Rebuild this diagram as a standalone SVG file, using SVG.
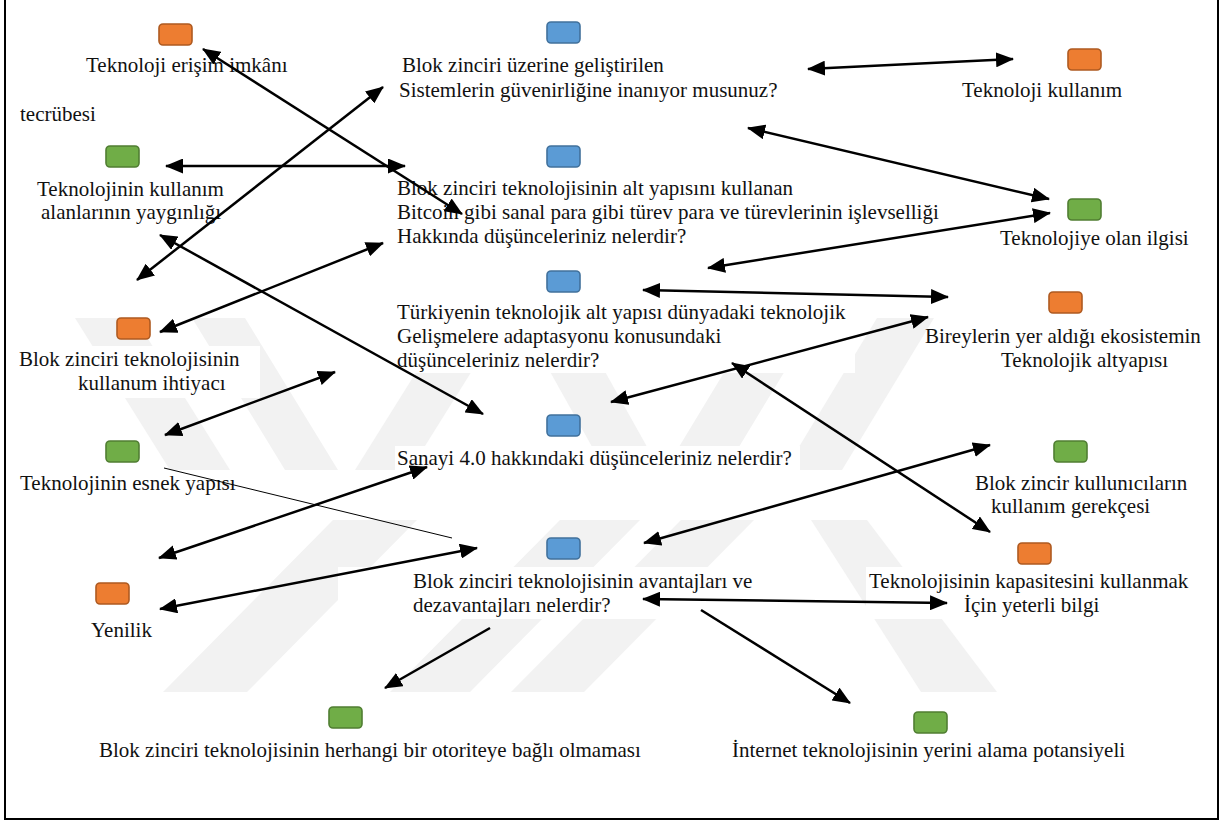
<svg xmlns="http://www.w3.org/2000/svg" width="1227" height="825" viewBox="0 0 1227 825">
  <defs>
    <style>
      .lbl { font-family: "Liberation Serif", "Times New Roman", serif; font-size: 21px; fill: #111; }
      .box { stroke-width: 1.6; }
      .o { fill: #ED7D31; stroke: #AE5A21; }
      .g { fill: #70AD47; stroke: #507E32; }
      .b { fill: #5B9BD5; stroke: #41719C; }
      .bg { fill: #ffffff; }
      .wm { fill: #f2f2f2; }
      .link { stroke: #000; stroke-width: 2.5; fill: none; }
      .both { marker-start: url(#head); marker-end: url(#head); }
      .one { marker-end: url(#head); }
      .thin { stroke: #000; stroke-width: 1; fill: none; }
    </style>
    <marker id="head" markerUnits="userSpaceOnUse" markerWidth="18" markerHeight="15" refX="17" refY="7.5" orient="auto-start-reverse">
      <path d="M0,0 L18,7.5 L0,15 z" fill="#000"/>
    </marker>
  </defs>

  <rect width="1227" height="825" fill="#ffffff"/>

  <!-- faint background chevron mark -->
  <g id="backdrop">
    <polygon class="wm" points="75,318 135,318 230,470 170,470"/>
    <polygon class="wm" points="192,318 245,318 338,470 285,470"/>
    <polygon class="wm" points="450,318 505,318 410,470 355,470"/>
    <polygon class="wm" points="520,318 575,318 660,470 605,470"/>
    <polygon class="wm" points="757,318 817,318 725,470 665,470"/>
    <polygon class="wm" points="877,318 934,318 842,470 785,470"/>
    <polygon class="wm" points="333,520 417,520 247,692 163,692"/>
    <polygon class="wm" points="560,520 640,520 470,692 390,692"/>
    <polygon class="wm" points="681,520 754,520 584,692 511,692"/>
    <polygon class="wm" points="811,520 867,520 997,692 921,692"/>
  </g>

  <!-- frame -->
  <rect x="5" y="-5" width="1213" height="824" fill="none" stroke="#000" stroke-width="2"/>

  <!-- left column -->
  <g id="n-erisim">
    <rect class="box o" x="159" y="24" width="33" height="21" rx="4"/>
    <text class="lbl" x="86" y="72">Teknoloji erişim imkânı</text>
  </g>
  <g id="n-tecrube">
    <text class="lbl" x="20" y="121">tecrübesi</text>
  </g>
  <g id="n-yayginlik">
    <rect class="box g" x="106" y="146" width="33" height="21" rx="4"/>
    <text class="lbl" x="37" y="196">Teknolojinin kullanım</text>
    <text class="lbl" x="41" y="219">alanlarının yaygınlığı</text>
  </g>
  <g id="n-ihtiyac">
    <rect class="bg" x="15" y="346" width="245" height="52"/>
    <rect class="box o" x="117" y="318" width="33" height="21" rx="4"/>
    <text class="lbl" x="19" y="366">Blok zinciri teknolojisinin</text>
    <text class="lbl" x="78" y="390">kullanum ihtiyacı</text>
  </g>
  <g id="n-esnek">
    <rect class="box g" x="106" y="441" width="33" height="21" rx="4"/>
    <text class="lbl" x="20" y="490">Teknolojinin esnek yapısı</text>
  </g>
  <g id="n-yenilik">
    <rect class="box o" x="96" y="583" width="33" height="21" rx="4"/>
    <text class="lbl" x="91" y="637">Yenilik</text>
  </g>

  <!-- centre column: questions -->
  <g id="q-guven">
    <rect class="box b" x="547" y="22" width="33" height="21" rx="4"/>
    <text class="lbl" x="402" y="72">Blok zinciri üzerine geliştirilen</text>
    <text class="lbl" x="399" y="97">Sistemlerin güvenirliğine inanıyor musunuz?</text>
  </g>
  <g id="q-bitcoin">
    <rect class="box b" x="547" y="146" width="33" height="21" rx="4"/>
    <text class="lbl" x="397" y="195">Blok zinciri teknolojisinin alt yapısını kullanan</text>
    <text class="lbl" x="397" y="219">Bitcoin gibi sanal para gibi türev para ve türevlerinin işlevselliği</text>
    <text class="lbl" x="397" y="243">Hakkında düşünceleriniz nelerdir?</text>
  </g>
  <g id="q-turkiye">
    <rect class="bg" x="395" y="300" width="460" height="73"/>
    <rect class="box b" x="547" y="271" width="33" height="21" rx="4"/>
    <text class="lbl" x="397" y="319">Türkiyenin teknolojik alt yapısı dünyadaki teknolojik</text>
    <text class="lbl" x="397" y="343">Gelişmelere adaptasyonu konusundaki</text>
    <text class="lbl" x="397" y="367">düşünceleriniz nelerdir?</text>
  </g>
  <g id="q-sanayi">
    <rect class="bg" x="395" y="446" width="405" height="25"/>
    <rect class="box b" x="547" y="415" width="33" height="21" rx="4"/>
    <text class="lbl" x="397" y="465">Sanayi 4.0 hakkındaki düşünceleriniz nelerdir?</text>
  </g>
  <g id="q-avantaj">
    <rect class="bg" x="338" y="567" width="420" height="52"/>
    <rect class="box b" x="547" y="538" width="33" height="21" rx="4"/>
    <text class="lbl" x="413" y="588">Blok zinciri teknolojisinin avantajları ve</text>
    <text class="lbl" x="413" y="612">dezavantajları nelerdir?</text>
  </g>

  <!-- right column -->
  <g id="n-kullanim">
    <rect class="box o" x="1068" y="49" width="33" height="21" rx="4"/>
    <text class="lbl" x="962" y="97">Teknoloji kullanım</text>
  </g>
  <g id="n-ilgi">
    <rect class="box g" x="1068" y="199" width="33" height="21" rx="4"/>
    <text class="lbl" x="1000" y="245">Teknolojiye olan ilgisi</text>
  </g>
  <g id="n-ekosistem">
    <rect class="box o" x="1049" y="292" width="33" height="21" rx="4"/>
    <text class="lbl" x="925" y="343">Bireylerin yer aldığı ekosistemin</text>
    <text class="lbl" x="1001" y="367">Teknolojik altyapısı</text>
  </g>
  <g id="n-gerekce">
    <rect class="box g" x="1054" y="441" width="33" height="21" rx="4"/>
    <text class="lbl" x="975" y="490">Blok zincir kullunıcıların</text>
    <text class="lbl" x="991" y="513">kullanım gerekçesi</text>
  </g>
  <g id="n-kapasite">
    <rect class="bg" x="866" y="567" width="335" height="52"/>
    <rect class="box o" x="1018" y="543" width="33" height="21" rx="4"/>
    <text class="lbl" x="869" y="588">Teknolojisinin kapasitesini kullanmak</text>
    <text class="lbl" x="964" y="612">İçin yeterli bilgi</text>
  </g>

  <!-- bottom row -->
  <g id="n-otorite">
    <rect class="box g" x="329" y="707" width="33" height="21" rx="4"/>
    <text class="lbl" x="99" y="757">Blok zinciri teknolojisinin herhangi bir otoriteye bağlı olmaması</text>
  </g>
  <g id="n-internet">
    <rect class="box g" x="914" y="712" width="33" height="21" rx="4"/>
    <text class="lbl" x="732" y="757">İnternet teknolojisinin yerini alama potansiyeli</text>
  </g>

  <!-- connectors -->
  <g id="connectors">
    <line class="link both" x1="808" y1="69" x2="1013" y2="59"/>
    <line class="link both" x1="748" y1="128" x2="1049" y2="199"/>
    <line class="link both" x1="708" y1="268" x2="1050" y2="213"/>
    <line class="link both" x1="166" y1="166" x2="405" y2="166"/>
    <line class="link both" x1="203" y1="49" x2="462" y2="214"/>
    <line class="link both" x1="383" y1="87" x2="137" y2="280"/>
    <line class="link both" x1="383" y1="243" x2="160" y2="332"/>
    <line class="link both" x1="160" y1="235" x2="483" y2="414"/>
    <line class="link both" x1="335" y1="372" x2="165" y2="435"/>
    <line class="thin" x1="164" y1="468" x2="452" y2="538"/>
    <line class="link both" x1="427" y1="467" x2="159" y2="558"/>
    <line class="link both" x1="477" y1="548" x2="160" y2="609"/>
    <line class="link both" x1="643" y1="290" x2="948" y2="297"/>
    <line class="link both" x1="611" y1="402" x2="928" y2="317"/>
    <line class="link both" x1="732" y1="363" x2="990" y2="532"/>
    <line class="link both" x1="644" y1="543" x2="990" y2="445"/>
    <line class="link both" x1="643" y1="599" x2="947" y2="603"/>
    <line class="link one" x1="490" y1="628" x2="385" y2="688"/>
    <line class="link one" x1="701" y1="610" x2="850" y2="703"/>
  </g>
</svg>
